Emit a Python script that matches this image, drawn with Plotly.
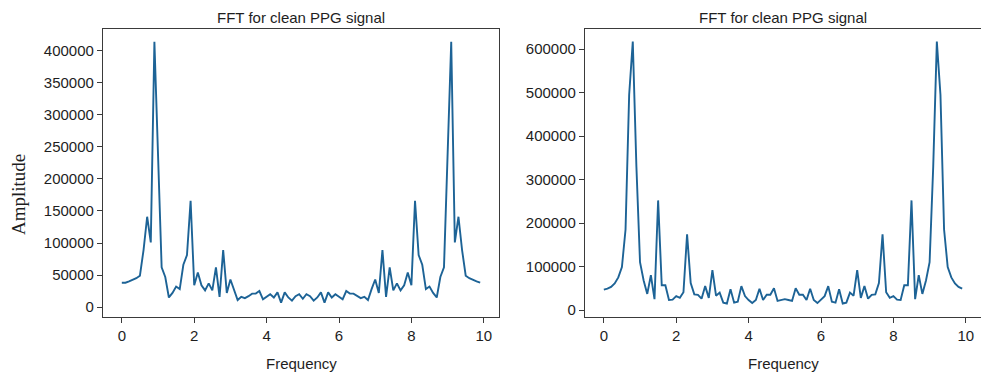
import plotly.graph_objects as go

frequency = [
    0.0, 0.1, 0.2, 0.3, 0.4, 0.5, 0.6, 0.7, 0.8, 0.9,
    1.0, 1.1, 1.2, 1.3, 1.4, 1.5, 1.6, 1.7, 1.8, 1.9,
    2.0, 2.1, 2.2, 2.3, 2.4, 2.5, 2.6, 2.7, 2.8, 2.9,
    3.0, 3.1, 3.2, 3.3, 3.4, 3.5, 3.6, 3.7, 3.8, 3.9,
    4.0, 4.1, 4.2, 4.3, 4.4, 4.5, 4.6, 4.7, 4.8, 4.9,
    5.0, 5.1, 5.2, 5.3, 5.4, 5.5, 5.6, 5.7, 5.8, 5.9,
    6.0, 6.1, 6.2, 6.3, 6.4, 6.5, 6.6, 6.7, 6.8, 6.9,
    7.0, 7.1, 7.2, 7.3, 7.4, 7.5, 7.6, 7.7, 7.8, 7.9,
    8.0, 8.1, 8.2, 8.3, 8.4, 8.5, 8.6, 8.7, 8.8, 8.9,
    9.0, 9.1, 9.2, 9.3, 9.4, 9.5, 9.6, 9.7, 9.8, 9.9,
]

amp_left = [
    38000, 38000, 40000, 42000, 45000, 49000, 89000, 141000, 101000, 414000,
    240000, 62000, 47000, 15000, 22000, 32000, 28000, 66000, 81000, 166000,
    34000, 54000, 34000, 26000, 37000, 26000, 62000, 16000, 89000, 22000,
    43000, 28000, 11000, 16000, 14000, 17000, 21000, 21000, 25000, 12000,
    16000, 20000, 15000, 23000, 7000, 23000, 15000, 10000, 17000, 20000,
    13000, 20000, 17000, 10000, 15000, 23000, 7000, 23000, 15000, 20000,
    16000, 12000, 25000, 21000, 21000, 17000, 14000, 16000, 11000, 28000,
    43000, 22000, 89000, 16000, 62000, 26000, 37000, 26000, 34000, 54000,
    34000, 166000, 81000, 66000, 28000, 32000, 22000, 15000, 47000, 62000,
    240000, 414000, 101000, 141000, 89000, 49000, 45000, 42000, 40000, 38000,
]

amp_right = [
    47000, 49000, 53000, 61000, 75000, 99000, 185000, 495000, 617000, 330000,
    110000, 68000, 37000, 80000, 25000, 252000, 57000, 57000, 23000, 24000,
    32000, 28000, 41000, 174000, 62000, 36000, 35000, 26000, 55000, 28000,
    92000, 33000, 40000, 17000, 15000, 48000, 17000, 19000, 55000, 32000,
    23000, 16000, 23000, 49000, 23000, 35000, 35000, 50000, 21000, 23000,
    25000, 23000, 21000, 50000, 35000, 35000, 23000, 49000, 23000, 16000,
    23000, 32000, 55000, 19000, 17000, 48000, 15000, 17000, 40000, 33000,
    92000, 28000, 55000, 26000, 35000, 36000, 62000, 174000, 41000, 28000,
    32000, 24000, 23000, 57000, 57000, 252000, 25000, 80000, 37000, 68000,
    110000, 330000, 617000, 495000, 185000, 99000, 75000, 61000, 53000, 49000,
]

titles = ["FFT for clean PPG signal", "FFT for clean PPG signal"]
x_label = "Frequency"
y_label = "Amplitude"

W, H = 981, 376
line_color = "#1d6396"
frame_color = "#3a3a3a"
text_color = "#1e1e1e"
sans = "Liberation Sans, Arial, sans-serif"

fig = go.Figure()
fig.add_trace(go.Scatter(x=frequency, y=amp_left, mode="lines",
                         line=dict(color=line_color, width=1.9),
                         xaxis="x", yaxis="y", showlegend=False))
fig.add_trace(go.Scatter(x=frequency, y=amp_right, mode="lines",
                         line=dict(color=line_color, width=1.9),
                         xaxis="x2", yaxis="y2", showlegend=False))

ydom = [(H - 317) / H, (H - 29) / H]
dom_left = [103 / W, 499 / W]
dom_right = [585 / W, 981 / W]

axis_common = dict(
    showgrid=False, zeroline=False, showline=True, mirror=True,
    linecolor=frame_color, linewidth=1.2,
    ticks="outside", ticklen=5, tickwidth=1.2, tickcolor=frame_color,
    tickfont=dict(family=sans, size=15, color=text_color),
)

fig.update_layout(
    width=W, height=H,
    margin=dict(l=0, r=0, t=0, b=0),
    paper_bgcolor="white", plot_bgcolor="white",
    xaxis=dict(domain=dom_left, range=[-0.52, 10.42], tickvals=[0, 2, 4, 6, 8, 10],
               anchor="y", **axis_common),
    yaxis=dict(domain=ydom, range=[-15500, 434000],
               tickvals=[0, 50000, 100000, 150000, 200000, 250000, 300000, 350000, 400000],
               tickformat="d", anchor="x", **axis_common),
    xaxis2=dict(domain=dom_right, range=[-0.52, 10.42], tickvals=[0, 2, 4, 6, 8, 10],
                anchor="y2", **axis_common),
    yaxis2=dict(domain=ydom, range=[-16000, 646000],
                tickvals=[0, 100000, 200000, 300000, 400000, 500000, 600000],
                tickformat="d", anchor="x2", **axis_common),
)

annotations = [
    dict(text=titles[0], x=(dom_left[0] + dom_left[1]) / 2, y=(H - 17) / H,
         xref="paper", yref="paper", showarrow=False, xanchor="center", yanchor="middle",
         font=dict(family=sans, size=15, color=text_color)),
    dict(text=titles[1], x=(dom_right[0] + dom_right[1]) / 2, y=(H - 17) / H,
         xref="paper", yref="paper", showarrow=False, xanchor="center", yanchor="middle",
         font=dict(family=sans, size=15, color=text_color)),
    dict(text=x_label, x=(dom_left[0] + dom_left[1]) / 2, y=(H - 363) / H,
         xref="paper", yref="paper", showarrow=False, xanchor="center", yanchor="middle",
         font=dict(family=sans, size=15, color=text_color)),
    dict(text=x_label, x=(dom_right[0] + dom_right[1]) / 2, y=(H - 363) / H,
         xref="paper", yref="paper", showarrow=False, xanchor="center", yanchor="middle",
         font=dict(family=sans, size=15, color=text_color)),
    dict(text=y_label, x=19 / W, y=(H - 195) / H, textangle=-90,
         xref="paper", yref="paper", showarrow=False, xanchor="center", yanchor="middle",
         font=dict(family="Liberation Serif, Times New Roman, serif", size=19, color=text_color)),
]
fig.update_layout(annotations=annotations)

fig.write_html("out.html")
